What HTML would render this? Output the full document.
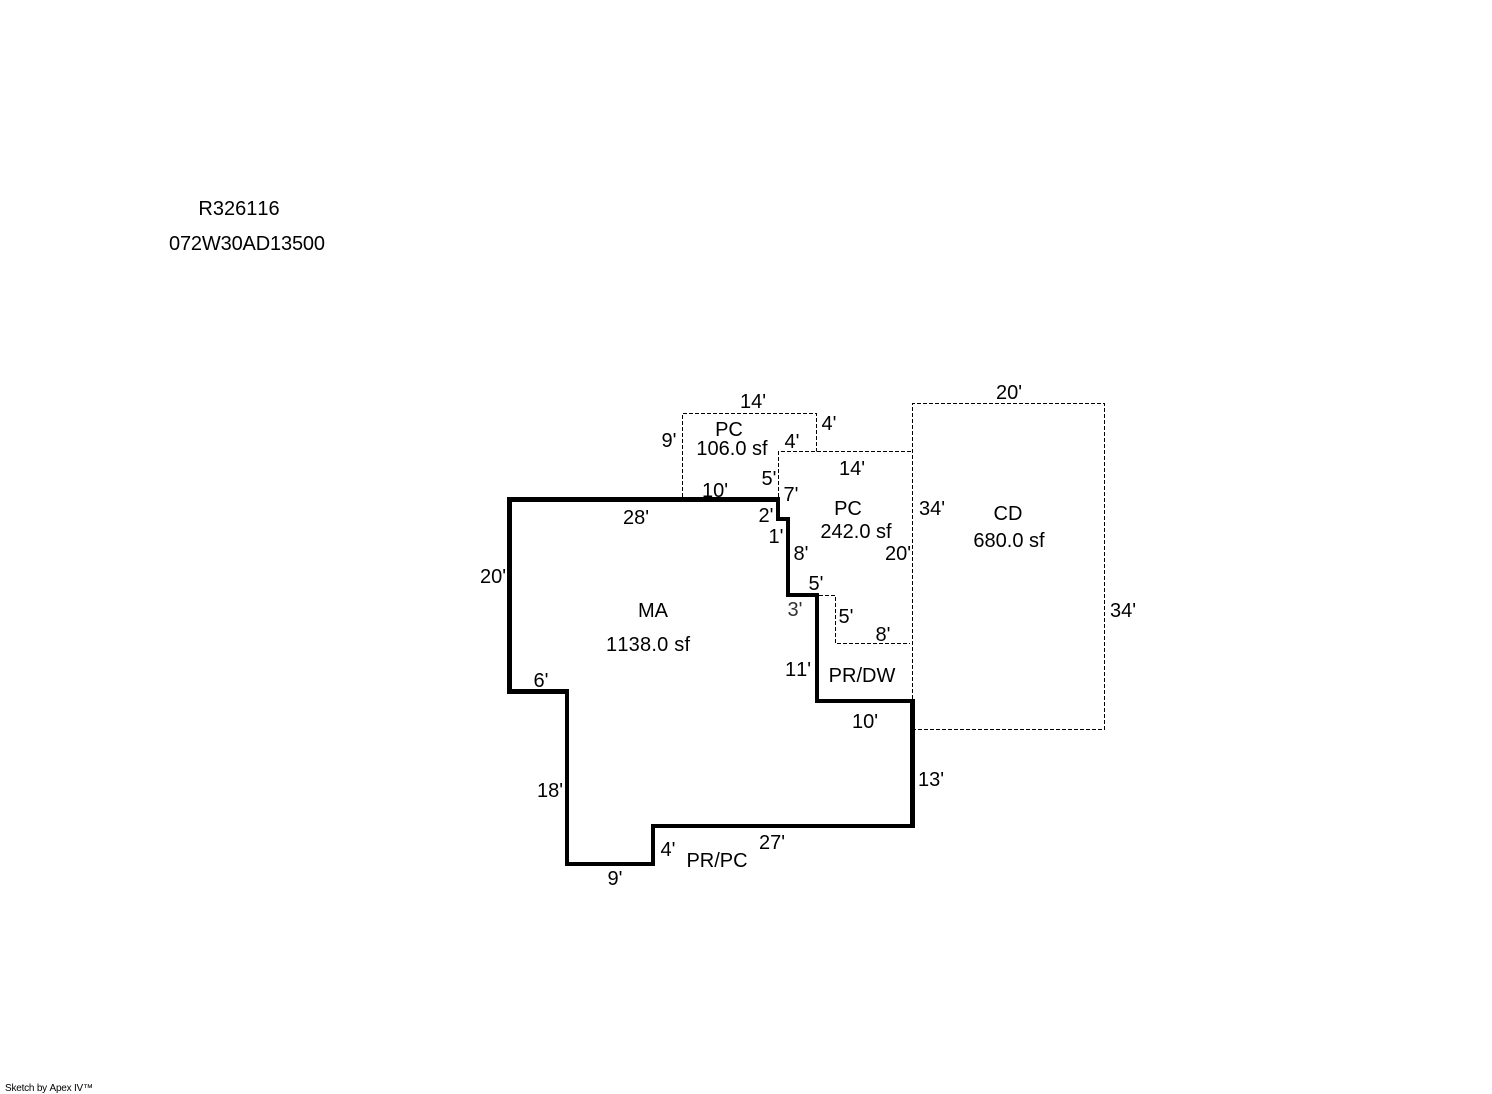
<!DOCTYPE html>
<html><head><meta charset="utf-8"><style>
html,body{margin:0;padding:0;background:#fff}
svg{display:block}
text{font-family:"Liberation Sans",Arial,sans-serif;font-size:20px;fill:#000;text-anchor:middle;font-kerning:none}
</style></head><body>
<svg width="1492" height="1094" viewBox="0 0 1492 1094" xmlns="http://www.w3.org/2000/svg">
<g fill="none" stroke="#000" stroke-width="1" stroke-dasharray="4 2" shape-rendering="crispEdges">
<path d="M682.5 497V413.5H816.5V451.5"/>
<path d="M778.5 497V451.5H912.5"/>
<path d="M912.5 699V403.5H1104.5V729.5H915"/>
<path d="M819 595.5H835.5V643.5H910"/>
</g>
<g fill="#000" shape-rendering="crispEdges">
<rect x="507" y="497" width="273" height="5"/>
<rect x="507" y="497" width="5" height="197"/>
<rect x="507" y="689" width="62" height="5"/>
<rect x="565" y="689" width="4" height="177"/>
<rect x="565" y="862" width="90" height="4"/>
<rect x="651" y="824" width="4" height="42"/>
<rect x="651" y="824" width="264" height="4"/>
<rect x="910" y="699" width="5" height="129"/>
<rect x="815" y="699" width="100" height="4"/>
<rect x="815" y="593" width="4" height="110"/>
<rect x="786" y="593" width="33" height="4"/>
<rect x="786" y="517" width="4" height="80"/>
<rect x="776" y="517" width="14" height="4"/>
<rect x="776" y="497" width="4" height="24"/>
</g>
<text x="239" y="215">R326116</text>
<text x="247" y="250" textLength="156" lengthAdjust="spacing">072W30AD13500</text>
<text x="753" y="408">14'</text>
<text x="829" y="430">4'</text>
<text x="669" y="447">9'</text>
<text x="729" y="436">PC</text>
<text x="732" y="455">106.0 sf</text>
<text x="792" y="448">4'</text>
<text x="1009" y="399">20'</text>
<text x="852" y="475">14'</text>
<text x="769" y="485">5'</text>
<text x="791" y="501">7'</text>
<text x="715" y="497">10'</text>
<text x="636" y="524">28'</text>
<text x="766" y="522">2'</text>
<text x="776" y="543">1'</text>
<text x="801" y="560">8'</text>
<text x="848" y="515">PC</text>
<text x="856" y="538">242.0 sf</text>
<text x="898" y="560">20'</text>
<text x="932" y="515">34'</text>
<text x="1008" y="520">CD</text>
<text x="1009" y="547">680.0 sf</text>
<text x="1123" y="617">34'</text>
<text x="493" y="583">20'</text>
<text x="816" y="590">5'</text>
<text x="795" y="616" style="fill:#333">3'</text>
<text x="846" y="623">5'</text>
<text x="883" y="641">8'</text>
<text x="653" y="617">MA</text>
<text x="648" y="651" textLength="84" lengthAdjust="spacing">1138.0 sf</text>
<text x="798" y="676">11'</text>
<text x="862" y="682">PR/DW</text>
<text x="541" y="687">6'</text>
<text x="865" y="728">10'</text>
<text x="931" y="786">13'</text>
<text x="550" y="797">18'</text>
<text x="772" y="849">27'</text>
<text x="668" y="856">4'</text>
<text x="717" y="867">PR/PC</text>
<text x="615" y="885">9'</text>
<text x="49" y="1091" style="font-size:10px" textLength="88" lengthAdjust="spacing">Sketch by Apex IV™</text>
</svg>
</body></html>
